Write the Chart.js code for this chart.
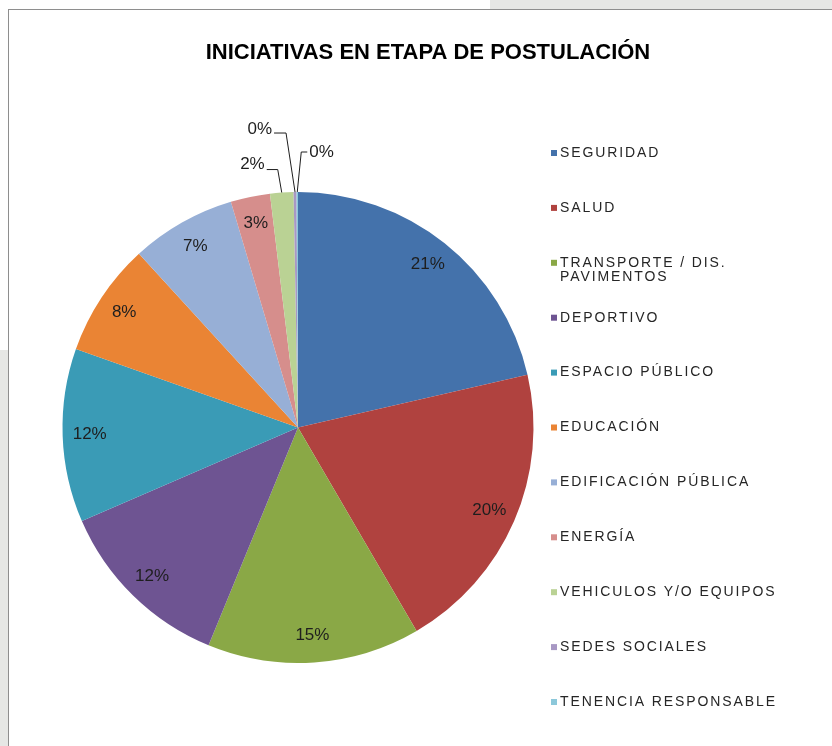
<!DOCTYPE html>
<html><head><meta charset="utf-8">
<script src="https://cdn.jsdelivr.net/npm/chart.js@4.4.1/dist/chart.umd.min.js"></script>
<style>
html,body{margin:0;padding:0;width:832px;height:746px;overflow:hidden;background:#fff;}
#gtop{position:absolute;left:490px;top:0;width:342px;height:9px;background:#e6e7e5;}
#gleft{position:absolute;left:0;top:350px;width:8px;height:396px;background:#e6e7e5;}
#frame{position:absolute;left:8px;top:9px;width:860px;height:760px;border-left:1px solid #8e8e8e;border-top:1px solid #8e8e8e;background:#fff;}
#wrap{position:absolute;left:9px;top:10px;width:838px;height:736px;}
</style></head><body>
<div id="gtop"></div><div id="gleft"></div><div id="frame"></div>
<div id="wrap"><canvas id="c" width="838" height="736"></canvas></div>
<script>
const chartTitle = 'INICIATIVAS EN ETAPA DE POSTULACIÓN';
const categories = ['SEGURIDAD', 'SALUD', 'TRANSPORTE / DIS.\nPAVIMENTOS', 'DEPORTIVO', 'ESPACIO PÚBLICO',
  'EDUCACIÓN', 'EDIFICACIÓN PÚBLICA', 'ENERGÍA', 'VEHICULOS Y/O EQUIPOS', 'SEDES SOCIALES', 'TENENCIA RESPONSABLE'];
const shares = [21.4, 20.2, 14.6, 12.3, 11.9, 7.8, 7.2, 2.7, 1.6, 0.2, 0.1];
const sliceColors = ['#4472ab', '#b0423f', '#8aa846', '#6e5492', '#3a9bb6', '#ea8434',
  '#97afd6', '#d68e8c', '#bad294', '#a898c4', '#8cc8da'];

const FONT = '"Liberation Sans", Arial, sans-serif';

function drawLegend(chart, box, o) {
  const ctx = chart.ctx;
  const labels = chart.data.labels;
  const bg = chart.data.datasets[0].backgroundColor;
  ctx.save();
  ctx.font = o.fontSize + 'px ' + FONT;
  ctx.textBaseline = 'middle';
  ctx.textAlign = 'left';
  if ('letterSpacing' in ctx) ctx.letterSpacing = o.letterSpacing + 'px';
  labels.forEach((lab, i) => {
    const y = o.top + i * o.spacing;
    const x = box.left + o.offsetX;
    ctx.fillStyle = bg[i];
    ctx.fillRect(x, y - o.boxSize / 2, o.boxSize, o.boxSize);
    ctx.fillStyle = o.color;
    String(lab).split('\n').forEach((ln, k) => ctx.fillText(ln, x + o.boxSize + o.gap, y + k * o.lineHeight));
  });
  ctx.restore();
}

const sideLegend = {
  id: 'sideLegend',
  beforeInit(chart, args, opts) {
    const box = {
      position: 'right', weight: 1000, fullSize: false, options: {},
      left: 0, top: 0, right: 0, bottom: 0, width: 0, height: 0,
      isHorizontal() { return false; },
      update(maxW, maxH) { this.width = opts.width; this.height = maxH; return {width: this.width, height: this.height}; },
      draw() { drawLegend(chart, this, opts); }
    };
    if (Chart.layouts && Chart.layouts.addBox) Chart.layouts.addBox(chart, box);
  }
};

const pctLabels = {
  id: 'pctLabels',
  afterDatasetsDraw(chart, args, o) {
    const ctx = chart.ctx;
    const vals = chart.data.datasets[0].data;
    const total = vals.reduce((a, b) => a + b, 0);
    const meta = chart.getDatasetMeta(0);
    ctx.save();
    ctx.font = o.fontSize + 'px ' + FONT;
    ctx.fillStyle = o.color;
    ctx.strokeStyle = o.lineColor;
    ctx.lineWidth = 1;
    ctx.textBaseline = 'middle';
    meta.data.forEach((arc, i) => {
      const p = arc.getProps(['x', 'y', 'startAngle', 'endAngle', 'outerRadius'], true);
      const mid = (p.startAngle + p.endAngle) / 2;
      const txt = Math.round(vals[i] / total * 100) + '%';
      const out = o.outside[i];
      if (out) {
        const ax = p.x + Math.cos(mid) * p.outerRadius;
        const ay = p.y + Math.sin(mid) * p.outerRadius;
        const ex = ax + out.ex, ey = ay + out.ey, hx = ex + out.hx;
        ctx.beginPath();
        ctx.moveTo(ax, ay); ctx.lineTo(ex, ey); ctx.lineTo(hx, ey);
        ctx.stroke();
        ctx.textAlign = out.hx < 0 ? 'right' : 'left';
        ctx.fillText(txt, hx + (out.hx < 0 ? -2 : 2), ey + out.ty);
      } else {
        const r = p.outerRadius * o.inside;
        ctx.textAlign = 'center';
        ctx.fillText(txt, p.x + Math.cos(mid) * r, p.y + Math.sin(mid) * r);
      }
    });
    ctx.restore();
  }
};

new Chart(document.getElementById('c'), {
  type: 'pie',
  data: {
    labels: categories,
    datasets: [{ data: shares, backgroundColor: sliceColors, borderWidth: 0 }]
  },
  options: {
    responsive: false,
    animation: false,
    layout: { padding: { left: 53.5, right: 53.5, top: 0, bottom: 83 } },
    plugins: {
      legend: { display: false },
      tooltip: { enabled: false },
      title: {
        display: true, text: chartTitle, color: '#000',
        font: { family: FONT, size: 22, weight: 'bold', lineHeight: 1.2 },
        padding: { top: 30, bottom: 125.6 }
      },
      sideLegend: {
        width: 260, top: 143, spacing: 54.9, offsetX: 17.5, boxSize: 6, gap: 3,
        fontSize: 14, letterSpacing: 1.9, lineHeight: 14, color: '#262626'
      },
      pctLabels: {
        fontSize: 17, color: '#1e1e1e', lineColor: '#1e1e1e', inside: 0.885,
        outside: {
          8: { ex: -4, ey: -23, hx: -11, ty: -5 },
          9: { ex: -9, ey: -59, hx: -12, ty: -4 },
          10: { ex: 4, ey: -40, hx: 6, ty: 0 }
        }
      }
    }
  },
  plugins: [sideLegend, pctLabels]
});
</script>
</body></html>
